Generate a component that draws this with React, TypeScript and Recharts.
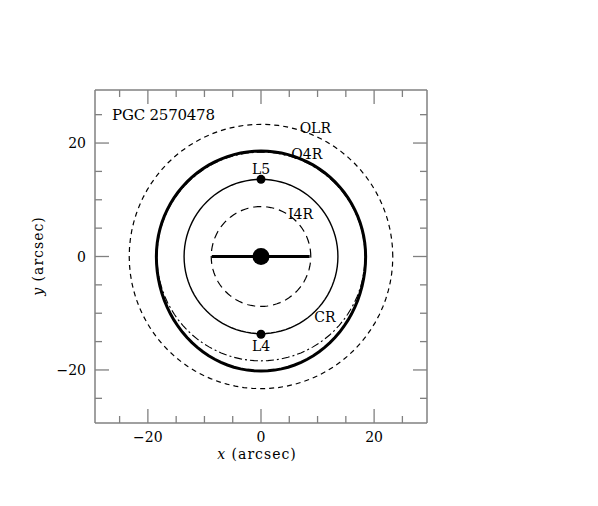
import { ScatterChart, Scatter, XAxis, YAxis } from 'recharts';

// axis setup (arcsec)
const axisDomain = [-29.35, 29.35];
const tickValues = [-25, -20, -15, -10, -5, 0, 5, 10, 15, 20, 25];
const majorTicks = [-20, 0, 20];

// circular resonance rings, radius in arcsec
const ringNames = ['I4R', 'CR', 'OLR', 'O4R circle'];
const ringRadii = [8.8, 13.6, 23.3, 18.4];

// thick O4R orbit: half width, top and bottom extent
const orbitHalfWidth = [18.5];
const orbitTop = [18.6];
const orbitBottom = [20.2];

// bar and points
const barEnds = [-8.7, 8.6];
const lagrangeNames = ['L4', 'L5'];
const lagrangeY = [-13.7, 13.6];

// curve labels
const labelNames = ['OLR', 'O4R', 'L5', 'I4R', 'CR', 'L4'];
const labelX = [9.6, 8.1, 0, 7.0, 11.3, 0];
const labelY = [22.6, 18.0, 15.5, 7.5, -10.6, -15.8];

const INK = '#000';
const FRAME = '#808080';
const SERIF = '"DejaVu Serif", serif';

function ellipse(rx: number, top: number, bottom: number) {
  const n = 96;
  return Array.from({ length: n + 1 }, (_, i) => {
    const t = (i / n) * Math.PI * 2;
    const s = Math.sin(t);
    return { x: rx * Math.cos(t), y: s >= 0 ? top * s : bottom * s };
  });
}

const radius = (name: string) => ringRadii[ringNames.indexOf(name)];

const barData = barEnds.map((x) => ({ x, y: 0 }));
const centerData = [{ x: 0, y: 0 }];
const lagrangeData = lagrangeNames.map((name, i) => ({ name, x: 0, y: lagrangeY[i] }));
const labelData = labelNames.map((name, i) => ({ name, x: labelX[i], y: labelY[i] }));

const fmt = (v: number) => (v < 0 ? `\u2212${Math.abs(v)}` : `${v}`);
const tickLen = (v: number) => (majorTicks.includes(v) ? 14 : 7);
const NoShape = () => <g />;

const BottomTick = ({ x, y, payload }: any) => (
  <g>
    <line x1={x} y1={y} x2={x} y2={y - tickLen(payload.value)} stroke={FRAME} strokeWidth={1.3} />
    {majorTicks.includes(payload.value) && (
      <text x={x} y={y + 19} textAnchor="middle" fontSize={14} fontFamily={SERIF} fill={INK}>
        {fmt(payload.value)}
      </text>
    )}
  </g>
);

const TopTick = ({ x, y, payload }: any) => (
  <line x1={x} y1={y} x2={x} y2={y + tickLen(payload.value)} stroke={FRAME} strokeWidth={1.3} />
);

const LeftTick = ({ x, y, payload }: any) => (
  <g>
    <line x1={x} y1={y} x2={x + tickLen(payload.value)} y2={y} stroke={FRAME} strokeWidth={1.3} />
    {majorTicks.includes(payload.value) && (
      <text x={x - 9} y={y + 5} textAnchor="end" fontSize={14} fontFamily={SERIF} fill={INK}>
        {fmt(payload.value)}
      </text>
    )}
  </g>
);

const RightTick = ({ x, y, payload }: any) => (
  <line x1={x} y1={y} x2={x - tickLen(payload.value)} y2={y} stroke={FRAME} strokeWidth={1.3} />
);

const Dot = (r: number) => (props: any) => <circle cx={props.cx} cy={props.cy} r={r} fill={INK} />;

const CurveLabel = (props: any) => (
  <text
    x={props.cx}
    y={props.cy + 5}
    textAnchor="middle"
    fontSize={14}
    fontFamily={SERIF}
    fill={INK}
  >
    {props.payload.name}
  </text>
);

export default function App() {
  const axisLine = { stroke: FRAME, strokeWidth: 1.5 };
  return (
    <div style={{ width: 590, height: 490, background: '#fff' }}>
      <ScatterChart width={590} height={490} margin={{ top: 81, right: 170, bottom: 74, left: 0 }}>
        <XAxis
          type="number"
          dataKey="x"
          domain={axisDomain}
          allowDataOverflow
          ticks={tickValues}
          interval={0}
          height={1}
          tickSize={0}
          tickMargin={0}
          tickLine={false}
          axisLine={axisLine}
          tick={BottomTick}
        />
        <XAxis
          xAxisId="top"
          orientation="top"
          type="number"
          dataKey="x"
          domain={axisDomain}
          allowDataOverflow
          ticks={tickValues}
          interval={0}
          height={1}
          tickSize={0}
          tickMargin={0}
          tickLine={false}
          axisLine={axisLine}
          tick={TopTick}
        />
        <YAxis
          type="number"
          dataKey="y"
          domain={axisDomain}
          allowDataOverflow
          ticks={tickValues}
          interval={0}
          width={87}
          tickSize={0}
          tickMargin={0}
          tickLine={false}
          axisLine={axisLine}
          tick={LeftTick}
        />
        <YAxis
          yAxisId="right"
          orientation="right"
          type="number"
          dataKey="y"
          domain={axisDomain}
          allowDataOverflow
          ticks={tickValues}
          interval={0}
          width={1}
          tickSize={0}
          tickMargin={0}
          tickLine={false}
          axisLine={axisLine}
          tick={RightTick}
        />

        <Scatter
          data={ellipse(radius('OLR'), radius('OLR'), radius('OLR'))}
          line={{ stroke: INK, strokeWidth: 1.2, strokeDasharray: '5 4' }}
          shape={NoShape}
          isAnimationActive={false}
        />
        <Scatter
          data={ellipse(radius('O4R circle'), radius('O4R circle'), radius('O4R circle'))}
          line={{ stroke: INK, strokeWidth: 1.1, strokeDasharray: '8 3 2 3' }}
          shape={NoShape}
          isAnimationActive={false}
        />
        <Scatter
          data={ellipse(orbitHalfWidth[0], orbitTop[0], orbitBottom[0])}
          line={{ stroke: INK, strokeWidth: 3 }}
          shape={NoShape}
          isAnimationActive={false}
        />
        <Scatter
          data={ellipse(radius('CR'), radius('CR'), radius('CR'))}
          line={{ stroke: INK, strokeWidth: 1.4 }}
          shape={NoShape}
          isAnimationActive={false}
        />
        <Scatter
          data={ellipse(radius('I4R'), radius('I4R'), radius('I4R'))}
          line={{ stroke: INK, strokeWidth: 1.2, strokeDasharray: '8 5' }}
          shape={NoShape}
          isAnimationActive={false}
        />
        <Scatter
          data={barData}
          line={{ stroke: INK, strokeWidth: 3 }}
          shape={NoShape}
          isAnimationActive={false}
        />
        <Scatter data={centerData} shape={Dot(8.5)} isAnimationActive={false} />
        <Scatter data={lagrangeData} shape={Dot(4.5)} isAnimationActive={false} />
        <Scatter data={labelData} shape={CurveLabel} isAnimationActive={false} />

        <text x={104} y={112} fontSize={15} fontFamily={SERIF} fill={INK} textLength={103}>
          PGC 2570478
        </text>
        <text
          x={249}
          y={451}
          textAnchor="middle"
          fontSize={14}
          fontFamily={SERIF}
          fill={INK}
          letterSpacing={1}
        >
          <tspan fontStyle="italic">x</tspan> (arcsec)
        </text>
        <text
          x={35}
          y={248}
          textAnchor="middle"
          fontSize={14}
          fontFamily={SERIF}
          fill={INK}
          letterSpacing={1}
          transform="rotate(-90 35 248)"
        >
          <tspan fontStyle="italic">y</tspan> (arcsec)
        </text>
      </ScatterChart>
    </div>
  );
}
